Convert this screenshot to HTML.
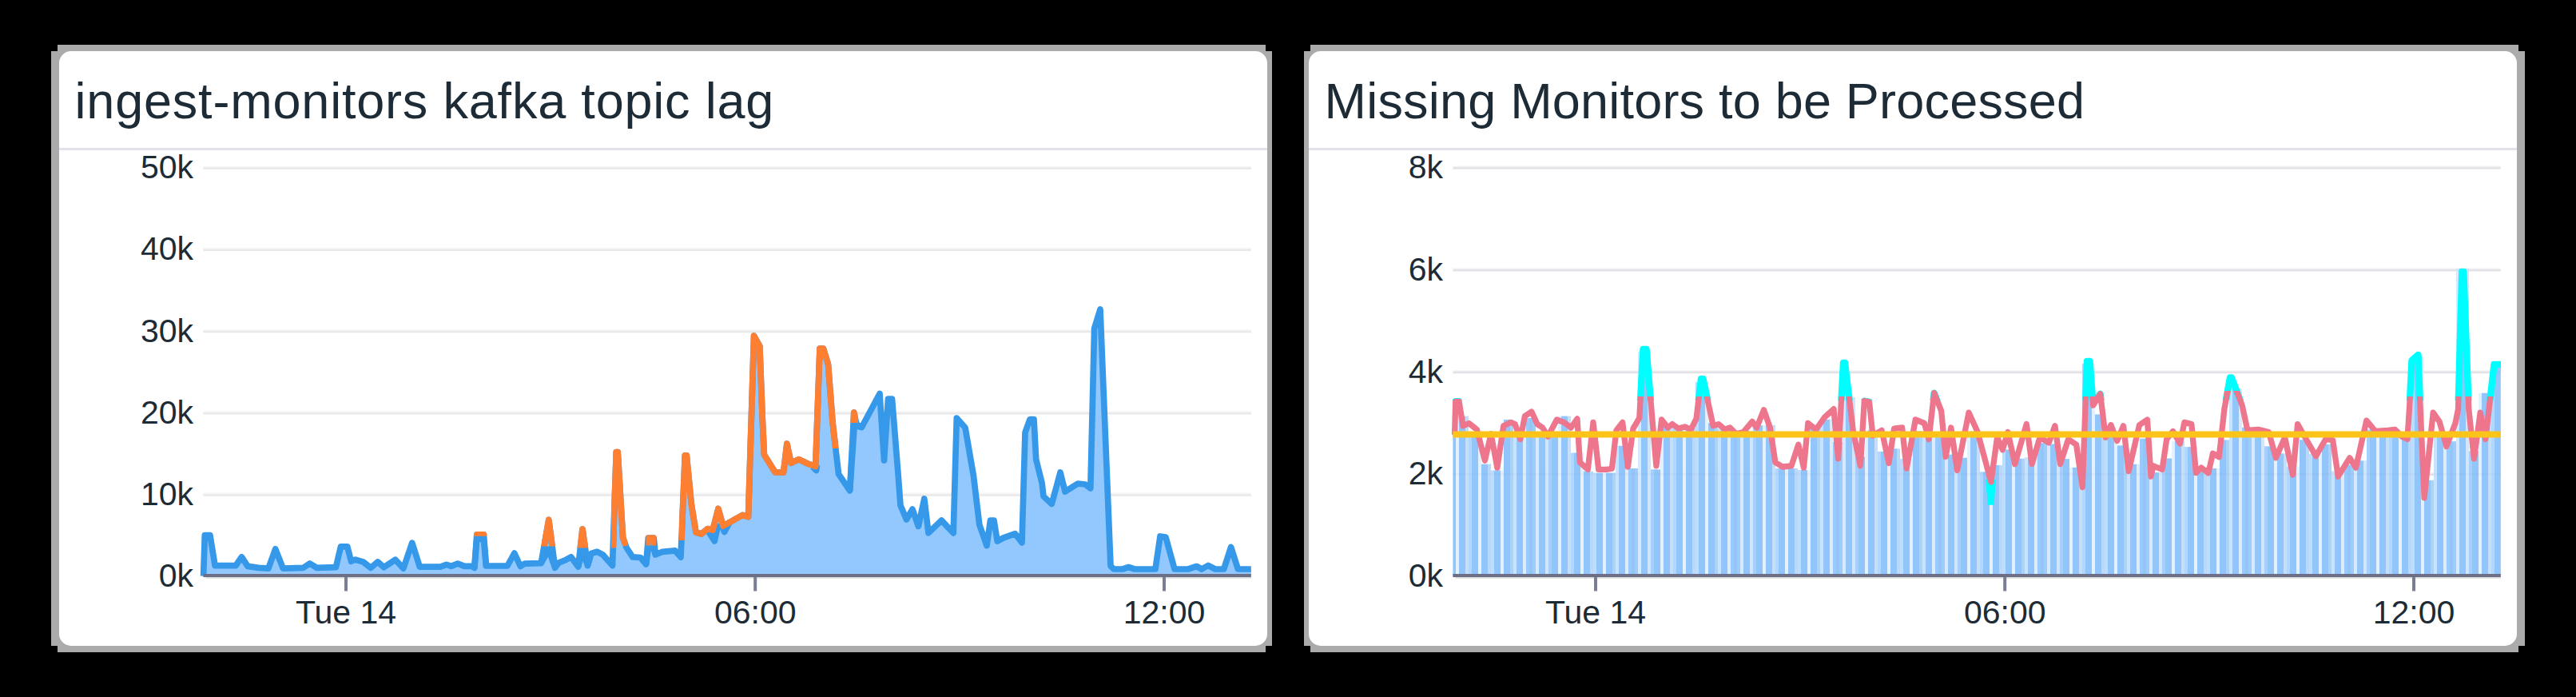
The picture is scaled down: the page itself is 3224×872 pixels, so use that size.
<!DOCTYPE html>
<html><head><meta charset="utf-8"><title>dashboard</title>
<style>html,body{margin:0;padding:0;background:#000;}body{width:3224px;height:872px;overflow:hidden;}svg{display:block;}text{font-family:"Liberation Sans",sans-serif;fill:#1c2b36;}.t{font-size:63px;}.a{font-size:41px;}</style></head><body>
<svg width="3224" height="872" viewBox="0 0 3224 872">
<rect x="0" y="0" width="3224" height="872" fill="#000"/>
<rect x="64" y="64" width="1528" height="744" fill="#ababab"/>
<rect x="72" y="56" width="1512" height="760" fill="#ababab"/>
<rect x="74" y="64" width="1512" height="744" rx="15" ry="15" fill="#fff"/>
<rect x="74" y="185" width="1512" height="3" fill="#e1e2ec"/>
<rect x="1632" y="64" width="1528" height="744" fill="#ababab"/>
<rect x="1640" y="56" width="1512" height="760" fill="#ababab"/>
<rect x="1638" y="64" width="1512" height="744" rx="15" ry="15" fill="#fff"/>
<rect x="1638" y="185" width="1512" height="3" fill="#e1e2ec"/>
<rect x="254.4" y="207.8" width="1311.3999999999999" height="1.8" fill="#f5f5f6"/>
<rect x="254.4" y="209.5" width="1311.3999999999999" height="2.4" fill="#e8e8ea"/>
<text class="a" x="242.0" y="223.2" text-anchor="end">50k</text>
<rect x="254.4" y="310.0" width="1311.3999999999999" height="1.8" fill="#f5f5f6"/>
<rect x="254.4" y="311.7" width="1311.3999999999999" height="2.4" fill="#e8e8ea"/>
<text class="a" x="242.0" y="325.4" text-anchor="end">40k</text>
<rect x="254.4" y="412.2" width="1311.3999999999999" height="1.8" fill="#f5f5f6"/>
<rect x="254.4" y="413.9" width="1311.3999999999999" height="2.4" fill="#e8e8ea"/>
<text class="a" x="242.0" y="427.6" text-anchor="end">30k</text>
<rect x="254.4" y="514.4" width="1311.3999999999999" height="1.8" fill="#f5f5f6"/>
<rect x="254.4" y="516.1" width="1311.3999999999999" height="2.4" fill="#e8e8ea"/>
<text class="a" x="242.0" y="529.8" text-anchor="end">20k</text>
<rect x="254.4" y="616.6" width="1311.3999999999999" height="1.8" fill="#f5f5f6"/>
<rect x="254.4" y="618.3" width="1311.3999999999999" height="2.4" fill="#e8e8ea"/>
<text class="a" x="242.0" y="632.0" text-anchor="end">10k</text>
<rect x="254.4" y="718.4" width="1311.3999999999999" height="1.8" fill="#f5f5f6"/>
<rect x="254.4" y="720.1" width="1311.3999999999999" height="2.4" fill="#e8e8ea"/>
<text class="a" x="242.0" y="733.8" text-anchor="end">0k</text>
<text class="a" x="433.0" y="779.8" text-anchor="middle">Tue 14</text>
<text class="a" x="945.2" y="779.8" text-anchor="middle">06:00</text>
<text class="a" x="1457.0" y="779.8" text-anchor="middle">12:00</text>
<text class="t" x="93.5" y="147.5" letter-spacing="0.8">ingest-monitors kafka topic lag</text>
<polygon points="254.6,720.0 254.6,720.6 256.3,669.5 262.9,669.5 269.1,707.7 295.0,707.7 302.5,696.8 310.0,708.4 323.6,710.4 335.9,711.1 344.7,686.8 354.3,711.1 379.5,710.4 387.7,705.0 396.5,710.4 420.4,709.7 426.5,683.8 434.7,683.8 439.5,702.2 444.9,700.2 454.4,702.9 464.0,710.4 472.8,702.9 480.3,709.7 494.7,700.2 504.9,711.1 515.8,679.1 525.3,709.1 551.2,709.1 558.7,706.3 564.8,708.4 573.0,705.0 581.2,708.4 590.7,708.4 593.8,710.4 596.8,668.8 605.4,668.8 608.4,708.0 635.0,708.0 643.8,692.0 651.3,708.4 656.8,705.2 677.2,704.7 686.8,650.4 694.7,710.4 699.0,704.3 708.6,700.2 714.7,696.8 723.6,709.1 729.0,662.0 735.6,707.7 740.0,692.5 747.2,690.3 754.4,693.9 766.5,707.5 771.3,565.7 773.2,565.7 779.6,672.4 784.0,685.0 791.7,696.8 801.7,697.5 808.6,706.0 811.3,673.0 818.2,673.0 820.4,694.0 829.0,690.3 844.8,688.9 852.0,697.0 857.3,569.8 859.3,569.8 865.2,630.0 871.0,666.0 877.8,668.0 885.7,661.6 892.0,663.0 899.0,636.5 905.0,658.0 929.4,644.4 936.5,646.5 943.6,420.0 950.8,433.0 954.1,520.0 956.4,569.0 960.0,574.6 970.3,591.0 980.6,591.0 984.9,555.0 990.0,579.3 999.8,574.6 1010.4,579.8 1020.7,583.5 1026.0,436.0 1030.5,436.0 1036.5,456.0 1042.1,528.7 1045.9,561.5 1049.6,593.2 1063.6,613.8 1068.8,516.0 1072.0,531.0 1078.5,534.5 1101.0,492.5 1106.5,576.0 1111.5,499.0 1116.5,499.0 1124.2,595.0 1127.0,632.3 1134.5,650.0 1142.0,637.0 1149.4,658.4 1156.8,624.0 1162.0,666.8 1178.3,651.0 1193.2,666.8 1197.3,523.0 1208.0,535.0 1218.4,595.0 1225.8,656.5 1235.0,682.6 1239.5,651.0 1244.0,651.0 1248.2,677.0 1255.7,673.0 1270.6,667.7 1279.0,679.0 1283.0,541.0 1289.0,524.5 1294.0,524.5 1296.7,574.6 1304.1,604.4 1306.0,621.0 1316.3,630.4 1327.0,591.0 1333.0,615.0 1349.0,605.0 1358.3,606.0 1364.8,611.0 1369.6,411.0 1377.0,387.0 1390.0,708.0 1394.0,712.0 1405.0,712.0 1412.5,709.5 1420.0,712.0 1446.0,712.0 1452.0,671.0 1459.0,672.0 1470.0,712.0 1487.0,712.0 1497.6,708.5 1504.0,712.0 1512.0,707.5 1521.0,712.0 1531.7,712.0 1540.6,684.5 1549.4,712.0 1565.8,712.0 1565.8,720.0" fill="#92c8fd"/>
<polyline points="677.2,704.7 686.8,687.2 694.7,710.4" fill="none" stroke="#3598e9" stroke-width="7.7" stroke-linejoin="round"/>
<polyline points="723.6,709.0 729.0,689.3 735.6,707.7" fill="none" stroke="#3598e9" stroke-width="7.7" stroke-linejoin="round"/>
<polyline points="593.8,710.0 596.8,674.5 605.4,674.5 608.4,708.0" fill="none" stroke="#3598e9" stroke-width="7.7" stroke-linejoin="round"/>
<polyline points="808.6,706.0 811.3,686.0 818.2,686.0 820.4,694.0" fill="none" stroke="#3598e9" stroke-width="7.7" stroke-linejoin="round"/>
<polyline points="1063.6,613.8 1069.2,532.6 1078.5,534.5" fill="none" stroke="#3598e9" stroke-width="7.7" stroke-linejoin="round"/>
<polyline points="886.0,664.0 894.3,677.0 899.0,655.0" fill="none" stroke="#3598e9" stroke-width="7.7" stroke-linejoin="round"/>
<polyline points="902.0,655.0 906.7,665.5 914.0,652.0" fill="none" stroke="#3598e9" stroke-width="7.7" stroke-linejoin="round"/>
<polyline points="1017.0,584.0 1021.6,588.5 1022.5,582.0" fill="none" stroke="#3598e9" stroke-width="7.7" stroke-linejoin="round"/>
<polyline points="254.6,720.6 256.3,669.5 262.9,669.5 269.1,707.7 295.0,707.7 302.5,696.8 310.0,708.4 323.6,710.4 335.9,711.1 344.7,686.8 354.3,711.1 379.5,710.4 387.7,705.0 396.5,710.4 420.4,709.7 426.5,683.8 434.7,683.8 439.5,702.2 444.9,700.2 454.4,702.9 464.0,710.4 472.8,702.9 480.3,709.7 494.7,700.2 504.9,711.1 515.8,679.1 525.3,709.1 551.2,709.1 558.7,706.3 564.8,708.4 573.0,705.0 581.2,708.4 590.7,708.4 593.8,710.4 596.8,668.8 605.4,668.8 608.4,708.0 635.0,708.0 643.8,692.0 651.3,708.4 656.8,705.2 677.2,704.7 686.8,650.4 694.7,710.4 699.0,704.3 708.6,700.2 714.7,696.8 723.6,709.1 729.0,662.0 735.6,707.7 740.0,692.5 747.2,690.3 754.4,693.9 766.5,707.5 771.3,565.7 773.2,565.7 779.6,672.4 784.0,685.0 791.7,696.8 801.7,697.5 808.6,706.0 811.3,673.0 818.2,673.0 820.4,694.0 829.0,690.3 844.8,688.9 852.0,697.0 857.3,569.8 859.3,569.8 865.2,630.0 871.0,666.0 877.8,668.0 885.7,661.6 892.0,663.0 899.0,636.5 905.0,658.0 929.4,644.4 936.5,646.5 943.6,420.0 950.8,433.0 954.1,520.0 956.4,569.0 960.0,574.6 970.3,591.0 980.6,591.0 984.9,555.0 990.0,579.3 999.8,574.6 1010.4,579.8 1020.7,583.5 1026.0,436.0 1030.5,436.0 1036.5,456.0 1042.1,528.7 1045.9,561.5 1049.6,593.2 1063.6,613.8 1068.8,516.0 1072.0,531.0 1078.5,534.5 1101.0,492.5 1106.5,576.0 1111.5,499.0 1116.5,499.0 1124.2,595.0 1127.0,632.3 1134.5,650.0 1142.0,637.0 1149.4,658.4 1156.8,624.0 1162.0,666.8 1178.3,651.0 1193.2,666.8 1197.3,523.0 1208.0,535.0 1218.4,595.0 1225.8,656.5 1235.0,682.6 1239.5,651.0 1244.0,651.0 1248.2,677.0 1255.7,673.0 1270.6,667.7 1279.0,679.0 1283.0,541.0 1289.0,524.5 1294.0,524.5 1296.7,574.6 1304.1,604.4 1306.0,621.0 1316.3,630.4 1327.0,591.0 1333.0,615.0 1349.0,605.0 1358.3,606.0 1364.8,611.0 1369.6,411.0 1377.0,387.0 1390.0,708.0 1394.0,712.0 1405.0,712.0 1412.5,709.5 1420.0,712.0 1446.0,712.0 1452.0,671.0 1459.0,672.0 1470.0,712.0 1487.0,712.0 1497.6,708.5 1504.0,712.0 1512.0,707.5 1521.0,712.0 1531.7,712.0 1540.6,684.5 1549.4,712.0 1565.8,712.0" fill="none" stroke="#3598e9" stroke-width="7.7" stroke-linejoin="round"/>
<clipPath id="oc">
<polygon points="592,0 609.5,0 609.5,670.8 592,670.8"/>
<polygon points="678,0 696,0 696,683.5 678,683.5"/>
<polygon points="722,0 737,0 737,685.5 722,685.5"/>
<polygon points="765,0 786,0 786,682.4 765,686"/>
<polygon points="808.5,0 821,0 821,682.4 808.5,682.4"/>
<polygon points="850,0 860,0 860,676 850,676"/>
<polygon points="860,0 1035,0 1035,722 860,722"/>
<polygon points="1035,0 1049,0 1049,561 1035,561"/>
<polygon points="1064,0 1074,0 1074,528.9 1064,528.9"/>
</clipPath>
<polyline clip-path="url(#oc)" points="254.6,720.6 256.3,669.5 262.9,669.5 269.1,707.7 295.0,707.7 302.5,696.8 310.0,708.4 323.6,710.4 335.9,711.1 344.7,686.8 354.3,711.1 379.5,710.4 387.7,705.0 396.5,710.4 420.4,709.7 426.5,683.8 434.7,683.8 439.5,702.2 444.9,700.2 454.4,702.9 464.0,710.4 472.8,702.9 480.3,709.7 494.7,700.2 504.9,711.1 515.8,679.1 525.3,709.1 551.2,709.1 558.7,706.3 564.8,708.4 573.0,705.0 581.2,708.4 590.7,708.4 593.8,710.4 596.8,668.8 605.4,668.8 608.4,708.0 635.0,708.0 643.8,692.0 651.3,708.4 656.8,705.2 677.2,704.7 686.8,650.4 694.7,710.4 699.0,704.3 708.6,700.2 714.7,696.8 723.6,709.1 729.0,662.0 735.6,707.7 740.0,692.5 747.2,690.3 754.4,693.9 766.5,707.5 771.3,565.7 773.2,565.7 779.6,672.4 784.0,685.0 791.7,696.8 801.7,697.5 808.6,706.0 811.3,673.0 818.2,673.0 820.4,694.0 829.0,690.3 844.8,688.9 852.0,697.0 857.3,569.8 859.3,569.8 865.2,630.0 871.0,666.0 877.8,668.0 885.7,661.6 892.0,663.0 899.0,636.5 905.0,658.0 929.4,644.4 936.5,646.5 943.6,420.0 950.8,433.0 954.1,520.0 956.4,569.0 960.0,574.6 970.3,591.0 980.6,591.0 984.9,555.0 990.0,579.3 999.8,574.6 1010.4,579.8 1020.7,583.5 1026.0,436.0 1030.5,436.0 1036.5,456.0 1042.1,528.7 1045.9,561.5 1049.6,593.2 1063.6,613.8 1068.8,516.0 1072.0,531.0 1078.5,534.5 1101.0,492.5 1106.5,576.0 1111.5,499.0 1116.5,499.0 1124.2,595.0 1127.0,632.3 1134.5,650.0 1142.0,637.0 1149.4,658.4 1156.8,624.0 1162.0,666.8 1178.3,651.0 1193.2,666.8 1197.3,523.0 1208.0,535.0 1218.4,595.0 1225.8,656.5 1235.0,682.6 1239.5,651.0 1244.0,651.0 1248.2,677.0 1255.7,673.0 1270.6,667.7 1279.0,679.0 1283.0,541.0 1289.0,524.5 1294.0,524.5 1296.7,574.6 1304.1,604.4 1306.0,621.0 1316.3,630.4 1327.0,591.0 1333.0,615.0 1349.0,605.0 1358.3,606.0 1364.8,611.0 1369.6,411.0 1377.0,387.0 1390.0,708.0 1394.0,712.0 1405.0,712.0 1412.5,709.5 1420.0,712.0 1446.0,712.0 1452.0,671.0 1459.0,672.0 1470.0,712.0 1487.0,712.0 1497.6,708.5 1504.0,712.0 1512.0,707.5 1521.0,712.0 1531.7,712.0 1540.6,684.5 1549.4,712.0 1565.8,712.0" fill="none" stroke="#ff7f32" stroke-width="7.7" stroke-linejoin="round"/>
<rect x="257.4" y="721.5" width="1308.3999999999999" height="2.2" fill="#dcdcdc"/>
<rect x="254.4" y="718" width="1311.3999999999999" height="4" fill="#6c6f85"/>
<rect x="431.0" y="722" width="4" height="17.5" fill="#7b7e93"/>
<rect x="943.2" y="722" width="4" height="17.5" fill="#7b7e93"/>
<rect x="1455.0" y="722" width="4" height="17.5" fill="#7b7e93"/>
<rect x="1818.4" y="207.6" width="1311.4" height="1.8" fill="#f5f5f6"/>
<rect x="1818.4" y="209.3" width="1311.4" height="2.4" fill="#e8e8ea"/>
<text class="a" x="1806.0" y="223.0" text-anchor="end">8k</text>
<rect x="1818.4" y="335.4" width="1311.4" height="1.8" fill="#f5f5f6"/>
<rect x="1818.4" y="337.1" width="1311.4" height="2.4" fill="#e8e8ea"/>
<text class="a" x="1806.0" y="350.8" text-anchor="end">6k</text>
<rect x="1818.4" y="463.2" width="1311.4" height="1.8" fill="#f5f5f6"/>
<rect x="1818.4" y="464.9" width="1311.4" height="2.4" fill="#e8e8ea"/>
<text class="a" x="1806.0" y="478.6" text-anchor="end">4k</text>
<rect x="1818.4" y="591.0" width="1311.4" height="1.8" fill="#f5f5f6"/>
<rect x="1818.4" y="592.7" width="1311.4" height="2.4" fill="#e8e8ea"/>
<text class="a" x="1806.0" y="606.4" text-anchor="end">2k</text>
<rect x="1818.4" y="718.4" width="1311.4" height="1.8" fill="#f5f5f6"/>
<rect x="1818.4" y="720.1" width="1311.4" height="2.4" fill="#e8e8ea"/>
<text class="a" x="1806.0" y="733.8" text-anchor="end">0k</text>
<text class="a" x="1997.0" y="779.8" text-anchor="middle">Tue 14</text>
<text class="a" x="2509.2" y="779.8" text-anchor="middle">06:00</text>
<text class="a" x="3021.0" y="779.8" text-anchor="middle">12:00</text>
<text class="t" x="1657.5" y="147.5" letter-spacing="0.2">Missing Monitors to be Processed</text>
<g>
<rect x="1818.4" y="539.9" width="3.6" height="180.1" fill="rgb(146,198,251)"/>
<rect x="1822.0" y="520.6" width="4.0" height="199.4" fill="rgb(227,240,253)"/>
<rect x="1826.0" y="520.6" width="4.0" height="199.4" fill="rgb(146,198,251)"/>
<rect x="1830.0" y="520.6" width="4.0" height="199.4" fill="rgb(146,198,251)"/>
<rect x="1834.0" y="520.6" width="4.0" height="199.4" fill="rgb(195,223,252)"/>
<rect x="1838.0" y="541.9" width="4.0" height="178.1" fill="rgb(178,215,252)"/>
<rect x="1842.0" y="541.9" width="4.0" height="178.1" fill="rgb(146,198,251)"/>
<rect x="1846.0" y="541.9" width="4.0" height="178.1" fill="rgb(146,198,251)"/>
<rect x="1850.0" y="541.9" width="4.0" height="178.1" fill="rgb(227,240,254)"/>
<rect x="1854.0" y="580.6" width="4.0" height="139.4" fill="rgb(146,198,251)"/>
<rect x="1858.0" y="580.6" width="4.0" height="139.4" fill="rgb(146,198,251)"/>
<rect x="1862.0" y="580.6" width="4.0" height="139.4" fill="rgb(182,217,252)"/>
<rect x="1866.0" y="588.4" width="4.0" height="131.6" fill="rgb(190,221,252)"/>
<rect x="1870.0" y="588.4" width="4.0" height="131.6" fill="rgb(146,198,251)"/>
<rect x="1874.0" y="588.4" width="4.0" height="131.6" fill="rgb(146,198,251)"/>
<rect x="1878.0" y="588.4" width="4.0" height="131.6" fill="rgb(227,240,254)"/>
<rect x="1882.0" y="525.0" width="4.0" height="195.0" fill="rgb(146,198,251)"/>
<rect x="1886.0" y="525.0" width="4.0" height="195.0" fill="rgb(146,198,251)"/>
<rect x="1890.0" y="525.0" width="4.0" height="195.0" fill="rgb(170,210,251)"/>
<rect x="1894.0" y="543.1" width="4.0" height="176.9" fill="rgb(202,227,253)"/>
<rect x="1898.0" y="543.1" width="4.0" height="176.9" fill="rgb(146,198,251)"/>
<rect x="1902.0" y="543.1" width="4.0" height="176.9" fill="rgb(146,198,251)"/>
<rect x="1906.0" y="543.1" width="4.0" height="176.9" fill="rgb(219,236,253)"/>
<rect x="1910.0" y="523.1" width="4.0" height="196.9" fill="rgb(154,202,251)"/>
<rect x="1914.0" y="523.1" width="4.0" height="196.9" fill="rgb(146,198,251)"/>
<rect x="1918.0" y="523.1" width="4.0" height="196.9" fill="rgb(158,204,251)"/>
<rect x="1922.0" y="541.0" width="4.0" height="179.0" fill="rgb(215,234,253)"/>
<rect x="1926.0" y="541.0" width="4.0" height="179.0" fill="rgb(146,198,251)"/>
<rect x="1930.0" y="541.0" width="4.0" height="179.0" fill="rgb(146,198,251)"/>
<rect x="1934.0" y="541.0" width="4.0" height="179.0" fill="rgb(207,229,253)"/>
<rect x="1938.0" y="539.8" width="4.0" height="180.2" fill="rgb(166,208,251)"/>
<rect x="1942.0" y="539.8" width="4.0" height="180.2" fill="rgb(146,198,251)"/>
<rect x="1946.0" y="539.8" width="4.0" height="180.2" fill="rgb(146,198,251)"/>
<rect x="1950.0" y="520.6" width="4.0" height="199.4" fill="rgb(227,240,253)"/>
<rect x="1954.0" y="520.6" width="4.0" height="199.4" fill="rgb(146,198,251)"/>
<rect x="1958.0" y="520.6" width="4.0" height="199.4" fill="rgb(146,198,251)"/>
<rect x="1962.0" y="520.6" width="4.0" height="199.4" fill="rgb(195,223,252)"/>
<rect x="1966.0" y="566.5" width="4.0" height="153.5" fill="rgb(178,215,252)"/>
<rect x="1970.0" y="566.5" width="4.0" height="153.5" fill="rgb(146,198,251)"/>
<rect x="1974.0" y="566.5" width="4.0" height="153.5" fill="rgb(146,198,251)"/>
<rect x="1978.0" y="566.5" width="4.0" height="153.5" fill="rgb(227,240,254)"/>
<rect x="1982.0" y="589.5" width="4.0" height="130.5" fill="rgb(146,198,251)"/>
<rect x="1986.0" y="589.5" width="4.0" height="130.5" fill="rgb(146,198,251)"/>
<rect x="1990.0" y="589.5" width="4.0" height="130.5" fill="rgb(182,217,252)"/>
<rect x="1994.0" y="591.7" width="4.0" height="128.3" fill="rgb(190,221,252)"/>
<rect x="1998.0" y="591.7" width="4.0" height="128.3" fill="rgb(146,198,251)"/>
<rect x="2002.0" y="591.7" width="4.0" height="128.3" fill="rgb(146,198,251)"/>
<rect x="2006.0" y="591.7" width="4.0" height="128.3" fill="rgb(227,240,254)"/>
<rect x="2010.0" y="591.7" width="4.0" height="128.3" fill="rgb(146,198,251)"/>
<rect x="2014.0" y="591.7" width="4.0" height="128.3" fill="rgb(146,198,251)"/>
<rect x="2018.0" y="591.7" width="4.0" height="128.3" fill="rgb(170,210,251)"/>
<rect x="2022.0" y="557.7" width="4.0" height="162.3" fill="rgb(202,227,253)"/>
<rect x="2026.0" y="557.7" width="4.0" height="162.3" fill="rgb(146,198,251)"/>
<rect x="2030.0" y="557.7" width="4.0" height="162.3" fill="rgb(146,198,251)"/>
<rect x="2034.0" y="557.7" width="4.0" height="162.3" fill="rgb(219,236,253)"/>
<rect x="2038.0" y="586.0" width="4.0" height="134.0" fill="rgb(154,202,251)"/>
<rect x="2042.0" y="586.0" width="4.0" height="134.0" fill="rgb(146,198,251)"/>
<rect x="2046.0" y="586.0" width="4.0" height="134.0" fill="rgb(158,204,251)"/>
<rect x="2050.0" y="440.0" width="4.0" height="280.0" fill="rgb(215,234,253)"/>
<rect x="2054.0" y="440.0" width="4.0" height="280.0" fill="rgb(146,198,251)"/>
<rect x="2058.0" y="440.0" width="4.0" height="280.0" fill="rgb(146,198,251)"/>
<rect x="2062.0" y="440.0" width="4.0" height="280.0" fill="rgb(207,229,253)"/>
<rect x="2066.0" y="587.3" width="4.0" height="132.7" fill="rgb(166,208,251)"/>
<rect x="2070.0" y="587.3" width="4.0" height="132.7" fill="rgb(146,198,251)"/>
<rect x="2074.0" y="587.3" width="4.0" height="132.7" fill="rgb(146,198,251)"/>
<rect x="2078.0" y="533.2" width="4.0" height="186.8" fill="rgb(227,240,253)"/>
<rect x="2082.0" y="533.2" width="4.0" height="186.8" fill="rgb(146,198,251)"/>
<rect x="2086.0" y="533.2" width="4.0" height="186.8" fill="rgb(146,198,251)"/>
<rect x="2090.0" y="533.2" width="4.0" height="186.8" fill="rgb(195,223,252)"/>
<rect x="2094.0" y="535.6" width="4.0" height="184.4" fill="rgb(178,215,252)"/>
<rect x="2098.0" y="535.6" width="4.0" height="184.4" fill="rgb(146,198,251)"/>
<rect x="2102.0" y="535.6" width="4.0" height="184.4" fill="rgb(146,198,251)"/>
<rect x="2106.0" y="535.6" width="4.0" height="184.4" fill="rgb(227,240,254)"/>
<rect x="2110.0" y="535.8" width="4.0" height="184.2" fill="rgb(146,198,251)"/>
<rect x="2114.0" y="535.8" width="4.0" height="184.2" fill="rgb(146,198,251)"/>
<rect x="2118.0" y="535.8" width="4.0" height="184.2" fill="rgb(182,217,252)"/>
<rect x="2122.0" y="478.0" width="4.0" height="242.0" fill="rgb(190,221,252)"/>
<rect x="2126.0" y="478.0" width="4.0" height="242.0" fill="rgb(146,198,251)"/>
<rect x="2130.0" y="478.0" width="4.0" height="242.0" fill="rgb(146,198,251)"/>
<rect x="2134.0" y="478.0" width="4.0" height="242.0" fill="rgb(227,240,254)"/>
<rect x="2138.0" y="529.2" width="4.0" height="190.8" fill="rgb(146,198,251)"/>
<rect x="2142.0" y="529.2" width="4.0" height="190.8" fill="rgb(146,198,251)"/>
<rect x="2146.0" y="529.2" width="4.0" height="190.8" fill="rgb(170,210,251)"/>
<rect x="2150.0" y="536.3" width="4.0" height="183.7" fill="rgb(202,227,253)"/>
<rect x="2154.0" y="536.3" width="4.0" height="183.7" fill="rgb(146,198,251)"/>
<rect x="2158.0" y="536.3" width="4.0" height="183.7" fill="rgb(146,198,251)"/>
<rect x="2162.0" y="536.3" width="4.0" height="183.7" fill="rgb(219,236,253)"/>
<rect x="2166.0" y="541.8" width="4.0" height="178.2" fill="rgb(154,202,251)"/>
<rect x="2170.0" y="541.8" width="4.0" height="178.2" fill="rgb(146,198,251)"/>
<rect x="2174.0" y="541.8" width="4.0" height="178.2" fill="rgb(158,204,251)"/>
<rect x="2178.0" y="539.0" width="4.0" height="181.0" fill="rgb(215,234,253)"/>
<rect x="2182.0" y="539.0" width="4.0" height="181.0" fill="rgb(146,198,251)"/>
<rect x="2186.0" y="539.0" width="4.0" height="181.0" fill="rgb(146,198,251)"/>
<rect x="2190.0" y="539.0" width="4.0" height="181.0" fill="rgb(207,229,253)"/>
<rect x="2194.0" y="532.2" width="4.0" height="187.8" fill="rgb(166,208,251)"/>
<rect x="2198.0" y="532.2" width="4.0" height="187.8" fill="rgb(146,198,251)"/>
<rect x="2202.0" y="532.2" width="4.0" height="187.8" fill="rgb(146,198,251)"/>
<rect x="2206.0" y="531.7" width="4.0" height="188.3" fill="rgb(227,240,253)"/>
<rect x="2210.0" y="531.7" width="4.0" height="188.3" fill="rgb(146,198,251)"/>
<rect x="2214.0" y="531.7" width="4.0" height="188.3" fill="rgb(146,198,251)"/>
<rect x="2218.0" y="531.7" width="4.0" height="188.3" fill="rgb(195,223,252)"/>
<rect x="2222.0" y="586.0" width="4.0" height="134.0" fill="rgb(178,215,252)"/>
<rect x="2226.0" y="586.0" width="4.0" height="134.0" fill="rgb(146,198,251)"/>
<rect x="2230.0" y="586.0" width="4.0" height="134.0" fill="rgb(146,198,251)"/>
<rect x="2234.0" y="586.0" width="4.0" height="134.0" fill="rgb(227,240,254)"/>
<rect x="2238.0" y="586.0" width="4.0" height="134.0" fill="rgb(146,198,251)"/>
<rect x="2242.0" y="586.0" width="4.0" height="134.0" fill="rgb(146,198,251)"/>
<rect x="2246.0" y="586.0" width="4.0" height="134.0" fill="rgb(182,217,252)"/>
<rect x="2250.0" y="588.0" width="4.0" height="132.0" fill="rgb(190,221,252)"/>
<rect x="2254.0" y="588.0" width="4.0" height="132.0" fill="rgb(146,198,251)"/>
<rect x="2258.0" y="588.0" width="4.0" height="132.0" fill="rgb(146,198,251)"/>
<rect x="2262.0" y="588.0" width="4.0" height="132.0" fill="rgb(227,240,254)"/>
<rect x="2266.0" y="535.6" width="4.0" height="184.4" fill="rgb(146,198,251)"/>
<rect x="2270.0" y="535.6" width="4.0" height="184.4" fill="rgb(146,198,251)"/>
<rect x="2274.0" y="535.6" width="4.0" height="184.4" fill="rgb(170,210,251)"/>
<rect x="2278.0" y="524.7" width="4.0" height="195.3" fill="rgb(202,227,253)"/>
<rect x="2282.0" y="524.7" width="4.0" height="195.3" fill="rgb(146,198,251)"/>
<rect x="2286.0" y="524.7" width="4.0" height="195.3" fill="rgb(146,198,251)"/>
<rect x="2290.0" y="524.7" width="4.0" height="195.3" fill="rgb(219,236,253)"/>
<rect x="2294.0" y="553.1" width="4.0" height="166.9" fill="rgb(154,202,251)"/>
<rect x="2298.0" y="553.1" width="4.0" height="166.9" fill="rgb(146,198,251)"/>
<rect x="2302.0" y="553.1" width="4.0" height="166.9" fill="rgb(158,204,251)"/>
<rect x="2306.0" y="497.0" width="4.0" height="223.0" fill="rgb(215,234,253)"/>
<rect x="2310.0" y="497.0" width="4.0" height="223.0" fill="rgb(146,198,251)"/>
<rect x="2314.0" y="497.0" width="4.0" height="223.0" fill="rgb(146,198,251)"/>
<rect x="2318.0" y="497.0" width="4.0" height="223.0" fill="rgb(207,229,253)"/>
<rect x="2322.0" y="571.4" width="4.0" height="148.6" fill="rgb(166,208,251)"/>
<rect x="2326.0" y="571.4" width="4.0" height="148.6" fill="rgb(146,198,251)"/>
<rect x="2330.0" y="571.4" width="4.0" height="148.6" fill="rgb(146,198,251)"/>
<rect x="2334.0" y="538.2" width="4.0" height="181.8" fill="rgb(227,240,253)"/>
<rect x="2338.0" y="538.2" width="4.0" height="181.8" fill="rgb(146,198,251)"/>
<rect x="2342.0" y="538.2" width="4.0" height="181.8" fill="rgb(146,198,251)"/>
<rect x="2346.0" y="538.2" width="4.0" height="181.8" fill="rgb(195,223,252)"/>
<rect x="2350.0" y="564.9" width="4.0" height="155.1" fill="rgb(178,215,252)"/>
<rect x="2354.0" y="564.9" width="4.0" height="155.1" fill="rgb(146,198,251)"/>
<rect x="2358.0" y="564.9" width="4.0" height="155.1" fill="rgb(146,198,251)"/>
<rect x="2362.0" y="564.9" width="4.0" height="155.1" fill="rgb(227,240,254)"/>
<rect x="2366.0" y="561.3" width="4.0" height="158.7" fill="rgb(146,198,251)"/>
<rect x="2370.0" y="561.3" width="4.0" height="158.7" fill="rgb(146,198,251)"/>
<rect x="2374.0" y="561.3" width="4.0" height="158.7" fill="rgb(182,217,252)"/>
<rect x="2378.0" y="574.1" width="4.0" height="145.9" fill="rgb(190,221,252)"/>
<rect x="2382.0" y="574.1" width="4.0" height="145.9" fill="rgb(146,198,251)"/>
<rect x="2386.0" y="574.1" width="4.0" height="145.9" fill="rgb(146,198,251)"/>
<rect x="2390.0" y="574.1" width="4.0" height="145.9" fill="rgb(227,240,254)"/>
<rect x="2394.0" y="539.2" width="4.0" height="180.8" fill="rgb(146,198,251)"/>
<rect x="2398.0" y="539.2" width="4.0" height="180.8" fill="rgb(146,198,251)"/>
<rect x="2402.0" y="539.2" width="4.0" height="180.8" fill="rgb(170,210,251)"/>
<rect x="2406.0" y="542.1" width="4.0" height="177.9" fill="rgb(202,227,253)"/>
<rect x="2410.0" y="542.1" width="4.0" height="177.9" fill="rgb(146,198,251)"/>
<rect x="2414.0" y="542.1" width="4.0" height="177.9" fill="rgb(146,198,251)"/>
<rect x="2418.0" y="542.1" width="4.0" height="177.9" fill="rgb(219,236,253)"/>
<rect x="2422.0" y="541.8" width="4.0" height="178.2" fill="rgb(154,202,251)"/>
<rect x="2426.0" y="541.8" width="4.0" height="178.2" fill="rgb(146,198,251)"/>
<rect x="2430.0" y="541.8" width="4.0" height="178.2" fill="rgb(158,204,251)"/>
<rect x="2434.0" y="568.7" width="4.0" height="151.3" fill="rgb(215,234,253)"/>
<rect x="2438.0" y="568.7" width="4.0" height="151.3" fill="rgb(146,198,251)"/>
<rect x="2442.0" y="568.7" width="4.0" height="151.3" fill="rgb(146,198,251)"/>
<rect x="2446.0" y="568.7" width="4.0" height="151.3" fill="rgb(207,229,253)"/>
<rect x="2450.0" y="572.7" width="4.0" height="147.3" fill="rgb(166,208,251)"/>
<rect x="2454.0" y="572.7" width="4.0" height="147.3" fill="rgb(146,198,251)"/>
<rect x="2458.0" y="572.7" width="4.0" height="147.3" fill="rgb(146,198,251)"/>
<rect x="2462.0" y="539.7" width="4.0" height="180.3" fill="rgb(227,240,253)"/>
<rect x="2466.0" y="539.7" width="4.0" height="180.3" fill="rgb(146,198,251)"/>
<rect x="2470.0" y="539.7" width="4.0" height="180.3" fill="rgb(146,198,251)"/>
<rect x="2474.0" y="539.7" width="4.0" height="180.3" fill="rgb(195,223,252)"/>
<rect x="2478.0" y="590.3" width="4.0" height="129.7" fill="rgb(178,215,252)"/>
<rect x="2482.0" y="590.3" width="4.0" height="129.7" fill="rgb(146,198,251)"/>
<rect x="2486.0" y="590.3" width="4.0" height="129.7" fill="rgb(146,198,251)"/>
<rect x="2490.0" y="590.3" width="4.0" height="129.7" fill="rgb(227,240,254)"/>
<rect x="2494.0" y="581.9" width="4.0" height="138.1" fill="rgb(146,198,251)"/>
<rect x="2498.0" y="581.9" width="4.0" height="138.1" fill="rgb(146,198,251)"/>
<rect x="2502.0" y="581.9" width="4.0" height="138.1" fill="rgb(182,217,252)"/>
<rect x="2506.0" y="562.4" width="4.0" height="157.6" fill="rgb(190,221,252)"/>
<rect x="2510.0" y="562.4" width="4.0" height="157.6" fill="rgb(146,198,251)"/>
<rect x="2514.0" y="562.4" width="4.0" height="157.6" fill="rgb(146,198,251)"/>
<rect x="2518.0" y="562.4" width="4.0" height="157.6" fill="rgb(227,240,254)"/>
<rect x="2522.0" y="573.7" width="4.0" height="146.3" fill="rgb(146,198,251)"/>
<rect x="2526.0" y="573.7" width="4.0" height="146.3" fill="rgb(146,198,251)"/>
<rect x="2530.0" y="573.7" width="4.0" height="146.3" fill="rgb(170,210,251)"/>
<rect x="2534.0" y="572.1" width="4.0" height="147.9" fill="rgb(202,227,253)"/>
<rect x="2538.0" y="572.1" width="4.0" height="147.9" fill="rgb(146,198,251)"/>
<rect x="2542.0" y="572.1" width="4.0" height="147.9" fill="rgb(146,198,251)"/>
<rect x="2546.0" y="572.1" width="4.0" height="147.9" fill="rgb(219,236,253)"/>
<rect x="2550.0" y="554.3" width="4.0" height="165.7" fill="rgb(154,202,251)"/>
<rect x="2554.0" y="554.3" width="4.0" height="165.7" fill="rgb(146,198,251)"/>
<rect x="2558.0" y="554.3" width="4.0" height="165.7" fill="rgb(158,204,251)"/>
<rect x="2562.0" y="555.5" width="4.0" height="164.5" fill="rgb(215,234,253)"/>
<rect x="2566.0" y="555.5" width="4.0" height="164.5" fill="rgb(146,198,251)"/>
<rect x="2570.0" y="555.5" width="4.0" height="164.5" fill="rgb(146,198,251)"/>
<rect x="2574.0" y="555.5" width="4.0" height="164.5" fill="rgb(207,229,253)"/>
<rect x="2578.0" y="574.1" width="4.0" height="145.9" fill="rgb(166,208,251)"/>
<rect x="2582.0" y="574.1" width="4.0" height="145.9" fill="rgb(146,198,251)"/>
<rect x="2586.0" y="574.1" width="4.0" height="145.9" fill="rgb(146,198,251)"/>
<rect x="2590.0" y="584.8" width="4.0" height="135.2" fill="rgb(227,240,253)"/>
<rect x="2594.0" y="584.8" width="4.0" height="135.2" fill="rgb(146,198,251)"/>
<rect x="2598.0" y="584.8" width="4.0" height="135.2" fill="rgb(146,198,251)"/>
<rect x="2602.0" y="584.8" width="4.0" height="135.2" fill="rgb(195,223,252)"/>
<rect x="2606.0" y="455.0" width="4.0" height="265.0" fill="rgb(178,215,252)"/>
<rect x="2610.0" y="455.0" width="4.0" height="265.0" fill="rgb(146,198,251)"/>
<rect x="2614.0" y="455.0" width="4.0" height="265.0" fill="rgb(146,198,251)"/>
<rect x="2618.0" y="455.0" width="4.0" height="265.0" fill="rgb(227,240,254)"/>
<rect x="2622.0" y="518.4" width="4.0" height="201.6" fill="rgb(146,198,251)"/>
<rect x="2626.0" y="518.4" width="4.0" height="201.6" fill="rgb(146,198,251)"/>
<rect x="2630.0" y="518.4" width="4.0" height="201.6" fill="rgb(182,217,252)"/>
<rect x="2634.0" y="544.0" width="4.0" height="176.0" fill="rgb(190,221,252)"/>
<rect x="2638.0" y="544.0" width="4.0" height="176.0" fill="rgb(146,198,251)"/>
<rect x="2642.0" y="544.0" width="4.0" height="176.0" fill="rgb(146,198,251)"/>
<rect x="2646.0" y="544.0" width="4.0" height="176.0" fill="rgb(227,240,254)"/>
<rect x="2650.0" y="557.3" width="4.0" height="162.7" fill="rgb(146,198,251)"/>
<rect x="2654.0" y="557.3" width="4.0" height="162.7" fill="rgb(146,198,251)"/>
<rect x="2658.0" y="557.3" width="4.0" height="162.7" fill="rgb(170,211,251)"/>
<rect x="2662.0" y="580.7" width="4.0" height="139.3" fill="rgb(202,227,253)"/>
<rect x="2666.0" y="580.7" width="4.0" height="139.3" fill="rgb(146,198,251)"/>
<rect x="2670.0" y="580.7" width="4.0" height="139.3" fill="rgb(146,198,251)"/>
<rect x="2674.0" y="580.7" width="4.0" height="139.3" fill="rgb(219,236,253)"/>
<rect x="2678.0" y="548.7" width="4.0" height="171.3" fill="rgb(154,202,251)"/>
<rect x="2682.0" y="548.7" width="4.0" height="171.3" fill="rgb(146,198,251)"/>
<rect x="2686.0" y="548.7" width="4.0" height="171.3" fill="rgb(158,204,251)"/>
<rect x="2690.0" y="591.1" width="4.0" height="128.9" fill="rgb(214,234,253)"/>
<rect x="2694.0" y="591.1" width="4.0" height="128.9" fill="rgb(146,198,251)"/>
<rect x="2698.0" y="591.1" width="4.0" height="128.9" fill="rgb(146,198,251)"/>
<rect x="2702.0" y="591.1" width="4.0" height="128.9" fill="rgb(207,230,253)"/>
<rect x="2706.0" y="573.5" width="4.0" height="146.5" fill="rgb(166,208,251)"/>
<rect x="2710.0" y="573.5" width="4.0" height="146.5" fill="rgb(146,198,251)"/>
<rect x="2714.0" y="573.5" width="4.0" height="146.5" fill="rgb(146,198,251)"/>
<rect x="2718.0" y="551.7" width="4.0" height="168.3" fill="rgb(227,240,253)"/>
<rect x="2722.0" y="551.7" width="4.0" height="168.3" fill="rgb(146,198,251)"/>
<rect x="2726.0" y="551.7" width="4.0" height="168.3" fill="rgb(146,198,251)"/>
<rect x="2730.0" y="551.7" width="4.0" height="168.3" fill="rgb(195,223,252)"/>
<rect x="2734.0" y="559.1" width="4.0" height="160.9" fill="rgb(178,215,252)"/>
<rect x="2738.0" y="559.1" width="4.0" height="160.9" fill="rgb(146,198,251)"/>
<rect x="2742.0" y="559.1" width="4.0" height="160.9" fill="rgb(146,198,251)"/>
<rect x="2746.0" y="559.1" width="4.0" height="160.9" fill="rgb(227,240,254)"/>
<rect x="2750.0" y="589.7" width="4.0" height="130.3" fill="rgb(146,198,251)"/>
<rect x="2754.0" y="589.7" width="4.0" height="130.3" fill="rgb(146,198,251)"/>
<rect x="2758.0" y="589.7" width="4.0" height="130.3" fill="rgb(182,217,252)"/>
<rect x="2762.0" y="585.9" width="4.0" height="134.1" fill="rgb(190,221,252)"/>
<rect x="2766.0" y="585.9" width="4.0" height="134.1" fill="rgb(146,198,251)"/>
<rect x="2770.0" y="585.9" width="4.0" height="134.1" fill="rgb(146,198,251)"/>
<rect x="2774.0" y="585.9" width="4.0" height="134.1" fill="rgb(227,240,254)"/>
<rect x="2778.0" y="550.4" width="4.0" height="169.6" fill="rgb(146,198,251)"/>
<rect x="2782.0" y="550.4" width="4.0" height="169.6" fill="rgb(146,198,251)"/>
<rect x="2786.0" y="550.4" width="4.0" height="169.6" fill="rgb(170,211,251)"/>
<rect x="2790.0" y="486.0" width="4.0" height="234.0" fill="rgb(202,227,253)"/>
<rect x="2794.0" y="486.0" width="4.0" height="234.0" fill="rgb(146,198,251)"/>
<rect x="2798.0" y="486.0" width="4.0" height="234.0" fill="rgb(146,198,251)"/>
<rect x="2802.0" y="486.0" width="4.0" height="234.0" fill="rgb(219,236,253)"/>
<rect x="2806.0" y="534.8" width="4.0" height="185.2" fill="rgb(154,202,251)"/>
<rect x="2810.0" y="534.8" width="4.0" height="185.2" fill="rgb(146,198,251)"/>
<rect x="2814.0" y="534.8" width="4.0" height="185.2" fill="rgb(158,204,251)"/>
<rect x="2818.0" y="538.3" width="4.0" height="181.7" fill="rgb(214,234,253)"/>
<rect x="2822.0" y="538.3" width="4.0" height="181.7" fill="rgb(146,198,251)"/>
<rect x="2826.0" y="538.3" width="4.0" height="181.7" fill="rgb(146,198,251)"/>
<rect x="2830.0" y="538.3" width="4.0" height="181.7" fill="rgb(207,230,253)"/>
<rect x="2834.0" y="558.3" width="4.0" height="161.7" fill="rgb(166,208,251)"/>
<rect x="2838.0" y="558.3" width="4.0" height="161.7" fill="rgb(146,198,251)"/>
<rect x="2842.0" y="558.3" width="4.0" height="161.7" fill="rgb(146,198,251)"/>
<rect x="2846.0" y="567.3" width="4.0" height="152.7" fill="rgb(227,240,253)"/>
<rect x="2850.0" y="567.3" width="4.0" height="152.7" fill="rgb(146,198,251)"/>
<rect x="2854.0" y="567.3" width="4.0" height="152.7" fill="rgb(146,198,251)"/>
<rect x="2858.0" y="567.3" width="4.0" height="152.7" fill="rgb(195,223,252)"/>
<rect x="2862.0" y="583.6" width="4.0" height="136.4" fill="rgb(178,215,252)"/>
<rect x="2866.0" y="583.6" width="4.0" height="136.4" fill="rgb(146,198,251)"/>
<rect x="2870.0" y="583.6" width="4.0" height="136.4" fill="rgb(146,198,251)"/>
<rect x="2874.0" y="583.6" width="4.0" height="136.4" fill="rgb(227,240,254)"/>
<rect x="2878.0" y="550.2" width="4.0" height="169.8" fill="rgb(146,198,251)"/>
<rect x="2882.0" y="550.2" width="4.0" height="169.8" fill="rgb(146,198,251)"/>
<rect x="2886.0" y="550.2" width="4.0" height="169.8" fill="rgb(182,217,252)"/>
<rect x="2890.0" y="567.8" width="4.0" height="152.2" fill="rgb(190,221,252)"/>
<rect x="2894.0" y="567.8" width="4.0" height="152.2" fill="rgb(146,198,251)"/>
<rect x="2898.0" y="567.8" width="4.0" height="152.2" fill="rgb(146,198,251)"/>
<rect x="2902.0" y="567.8" width="4.0" height="152.2" fill="rgb(227,240,254)"/>
<rect x="2906.0" y="555.8" width="4.0" height="164.2" fill="rgb(146,198,251)"/>
<rect x="2910.0" y="555.8" width="4.0" height="164.2" fill="rgb(146,198,251)"/>
<rect x="2914.0" y="555.8" width="4.0" height="164.2" fill="rgb(170,211,251)"/>
<rect x="2918.0" y="589.4" width="4.0" height="130.6" fill="rgb(202,227,253)"/>
<rect x="2922.0" y="589.4" width="4.0" height="130.6" fill="rgb(146,198,251)"/>
<rect x="2926.0" y="589.4" width="4.0" height="130.6" fill="rgb(146,198,251)"/>
<rect x="2930.0" y="589.4" width="4.0" height="130.6" fill="rgb(219,236,253)"/>
<rect x="2934.0" y="581.4" width="4.0" height="138.6" fill="rgb(154,202,251)"/>
<rect x="2938.0" y="581.4" width="4.0" height="138.6" fill="rgb(146,198,251)"/>
<rect x="2942.0" y="581.4" width="4.0" height="138.6" fill="rgb(158,204,251)"/>
<rect x="2946.0" y="576.3" width="4.0" height="143.7" fill="rgb(214,234,253)"/>
<rect x="2950.0" y="576.3" width="4.0" height="143.7" fill="rgb(146,198,251)"/>
<rect x="2954.0" y="576.3" width="4.0" height="143.7" fill="rgb(146,198,251)"/>
<rect x="2958.0" y="576.3" width="4.0" height="143.7" fill="rgb(207,230,253)"/>
<rect x="2962.0" y="537.4" width="4.0" height="182.6" fill="rgb(166,208,251)"/>
<rect x="2966.0" y="537.4" width="4.0" height="182.6" fill="rgb(146,198,251)"/>
<rect x="2970.0" y="537.4" width="4.0" height="182.6" fill="rgb(146,198,251)"/>
<rect x="2974.0" y="539.1" width="4.0" height="180.9" fill="rgb(227,240,253)"/>
<rect x="2978.0" y="539.1" width="4.0" height="180.9" fill="rgb(146,198,251)"/>
<rect x="2982.0" y="539.1" width="4.0" height="180.9" fill="rgb(146,198,251)"/>
<rect x="2986.0" y="539.1" width="4.0" height="180.9" fill="rgb(195,223,252)"/>
<rect x="2990.0" y="541.1" width="4.0" height="178.9" fill="rgb(178,215,252)"/>
<rect x="2994.0" y="541.1" width="4.0" height="178.9" fill="rgb(146,198,251)"/>
<rect x="2998.0" y="541.1" width="4.0" height="178.9" fill="rgb(146,198,251)"/>
<rect x="3002.0" y="541.1" width="4.0" height="178.9" fill="rgb(227,240,254)"/>
<rect x="3006.0" y="544.5" width="4.0" height="175.5" fill="rgb(146,198,251)"/>
<rect x="3010.0" y="544.5" width="4.0" height="175.5" fill="rgb(146,198,251)"/>
<rect x="3014.0" y="544.5" width="4.0" height="175.5" fill="rgb(182,217,252)"/>
<rect x="3018.0" y="447.0" width="4.0" height="273.0" fill="rgb(190,221,252)"/>
<rect x="3022.0" y="447.0" width="4.0" height="273.0" fill="rgb(146,198,251)"/>
<rect x="3026.0" y="447.0" width="4.0" height="273.0" fill="rgb(146,198,251)"/>
<rect x="3030.0" y="447.0" width="4.0" height="273.0" fill="rgb(227,240,254)"/>
<rect x="3034.0" y="600.8" width="4.0" height="119.2" fill="rgb(146,198,251)"/>
<rect x="3038.0" y="600.8" width="4.0" height="119.2" fill="rgb(146,198,251)"/>
<rect x="3042.0" y="600.8" width="4.0" height="119.2" fill="rgb(170,211,251)"/>
<rect x="3046.0" y="543.4" width="4.0" height="176.6" fill="rgb(202,227,253)"/>
<rect x="3050.0" y="543.4" width="4.0" height="176.6" fill="rgb(146,198,251)"/>
<rect x="3054.0" y="543.4" width="4.0" height="176.6" fill="rgb(146,198,251)"/>
<rect x="3058.0" y="543.4" width="4.0" height="176.6" fill="rgb(219,236,253)"/>
<rect x="3062.0" y="552.2" width="4.0" height="167.8" fill="rgb(154,202,251)"/>
<rect x="3066.0" y="552.2" width="4.0" height="167.8" fill="rgb(146,198,251)"/>
<rect x="3070.0" y="552.2" width="4.0" height="167.8" fill="rgb(158,204,251)"/>
<rect x="3074.0" y="336.0" width="4.0" height="384.0" fill="rgb(214,234,253)"/>
<rect x="3078.0" y="336.0" width="4.0" height="384.0" fill="rgb(146,198,251)"/>
<rect x="3082.0" y="336.0" width="4.0" height="384.0" fill="rgb(146,198,251)"/>
<rect x="3086.0" y="336.0" width="4.0" height="384.0" fill="rgb(207,230,253)"/>
<rect x="3090.0" y="564.4" width="4.0" height="155.6" fill="rgb(166,208,251)"/>
<rect x="3094.0" y="564.4" width="4.0" height="155.6" fill="rgb(146,198,251)"/>
<rect x="3098.0" y="564.4" width="4.0" height="155.6" fill="rgb(146,198,251)"/>
<rect x="3102.0" y="491.7" width="4.0" height="228.3" fill="rgb(227,240,253)"/>
<rect x="3106.0" y="491.7" width="4.0" height="228.3" fill="rgb(146,198,251)"/>
<rect x="3110.0" y="491.7" width="4.0" height="228.3" fill="rgb(146,198,251)"/>
<rect x="3114.0" y="491.7" width="4.0" height="228.3" fill="rgb(195,223,252)"/>
<rect x="3118.0" y="452.0" width="4.0" height="268.0" fill="rgb(178,215,252)"/>
<rect x="3122.0" y="452.0" width="4.0" height="268.0" fill="rgb(146,198,251)"/>
<rect x="3126.0" y="452.0" width="3.8" height="268.0" fill="rgb(146,198,251)"/>
</g>
<rect x="1818.4" y="208.3" width="1311.4" height="3" fill="#8090b0" fill-opacity="0.06"/>
<rect x="1818.4" y="336.1" width="1311.4" height="3" fill="#8090b0" fill-opacity="0.06"/>
<rect x="1818.4" y="463.9" width="1311.4" height="3" fill="#8090b0" fill-opacity="0.06"/>
<rect x="1818.4" y="591.7" width="1311.4" height="3" fill="#8090b0" fill-opacity="0.06"/>
<polygon points="2485,600 2498,600 2495.6,631.8 2487.8,631.8" fill="#00fdff"/>
<clipPath id="cc"><rect x="1800" y="300" width="1400" height="201"/></clipPath>
<polyline clip-path="url(#cc)" points="1820.6,543.9 1821.7,502.3 1826.1,502.3 1831.0,532.8 1838.3,529.5 1848.4,537.3 1858.4,576.2 1866.1,542.8 1873.9,585.1 1881.7,532.8 1890.6,528.4 1896.2,530.6 1902.8,549.5 1908.4,520.6 1916.8,515.0 1924.0,530.6 1930.6,535.0 1937.3,546.2 1948.4,525.0 1957.3,528.4 1966.2,535.0 1974.0,523.9 1977.3,578.4 1987.3,587.3 1994.0,528.4 2000.7,587.3 2010.7,587.3 2017.4,586.2 2022.9,538.4 2030.7,528.4 2037.4,584.0 2044.0,536.1 2051.8,522.8 2056.5,437.0 2060.5,437.0 2072.9,582.8 2079.6,525.0 2087.4,535.0 2093.0,530.6 2100.7,536.1 2108.5,533.9 2116.3,537.3 2123.0,523.9 2129.0,474.0 2131.5,474.0 2144.1,532.8 2150.8,530.6 2158.6,537.3 2165.2,535.0 2173.0,542.8 2181.9,540.6 2193.0,527.3 2198.6,535.0 2207.5,512.8 2215.3,535.0 2221.9,578.4 2230.8,584.0 2242.0,582.8 2250.8,556.2 2257.5,585.1 2262.8,529.5 2272.8,537.3 2283.9,521.7 2295.0,511.7 2300.6,573.9 2307.0,454.0 2309.0,454.0 2319.5,540.6 2328.4,582.8 2333.3,501.7 2339.5,502.8 2343.9,545.0 2355.1,538.4 2364.0,579.5 2370.6,536.1 2380.6,535.0 2386.2,586.2 2397.3,525.0 2408.4,529.5 2414.0,549.5 2420.7,491.7 2429.6,513.9 2435.1,571.7 2441.8,535.0 2449.6,588.4 2464.0,516.1 2475.1,540.6 2491.8,602.9 2499.6,547.3 2506.3,562.8 2512.9,540.6 2521.8,580.6 2536.3,530.6 2543.0,580.6 2553.0,547.3 2564.1,553.9 2571.9,532.8 2578.5,580.6 2588.6,549.5 2598.6,556.2 2606.3,609.5 2612.0,452.0 2615.5,452.0 2619.7,507.2 2628.6,492.8 2635.3,547.3 2641.9,531.7 2649.7,551.7 2657.5,532.8 2664.2,589.5 2677.5,531.7 2687.5,525.0 2692.0,596.2 2695.0,582.8 2706.1,587.3 2711.7,549.5 2719.5,539.5 2728.4,555.0 2733.9,528.4 2742.8,530.6 2748.4,591.7 2755.0,585.1 2763.9,591.7 2769.5,567.3 2777.3,571.7 2783.9,511.7 2791.0,472.5 2793.0,472.5 2806.2,507.2 2812.9,538.4 2826.2,537.3 2839.5,540.6 2848.4,572.8 2859.6,547.3 2869.6,594.0 2875.6,530.6 2886.2,549.5 2898.5,570.6 2910.7,549.5 2919.6,550.6 2926.3,596.2 2940.7,572.8 2948.5,585.1 2961.8,526.1 2973.0,539.5 2988.5,538.4 2997.4,537.3 3006.3,546.2 3013.0,549.5 3015.8,505.0 3018.5,451.0 3026.5,444.0 3028.9,505.0 3034.1,622.9 3045.2,516.1 3053.0,527.3 3061.9,558.4 3073.0,529.5 3076.5,512.0 3081.3,340.0 3083.3,340.0 3089.8,512.0 3096.4,573.9 3104.2,516.1 3110.8,549.5 3121.5,456.0 3130.0,456.0" fill="none" stroke="#00fdff" stroke-width="8.4" stroke-linejoin="round"/>
<clipPath id="pc">
<rect x="1808.4" y="0" width="235.5999999999999" height="900"/>
<rect x="2044" y="496" width="29" height="404"/>
<rect x="2073" y="0" width="43" height="900"/>
<rect x="2116" y="496" width="29" height="404"/>
<rect x="2145" y="0" width="149" height="900"/>
<rect x="2294" y="496" width="28" height="404"/>
<rect x="2322" y="0" width="278" height="900"/>
<rect x="2600" y="496" width="22" height="404"/>
<rect x="2622" y="0" width="156" height="900"/>
<rect x="2778" y="489" width="28" height="411"/>
<rect x="2806" y="0" width="202" height="900"/>
<rect x="3008" y="496" width="28" height="404"/>
<rect x="3036" y="0" width="32" height="900"/>
<rect x="3068" y="496" width="28" height="404"/>
<rect x="3096" y="0" width="16" height="900"/>
<rect x="3112" y="496" width="28" height="404"/>
<rect x="3140" y="0" width="-0.1999999999998181" height="900"/>
</clipPath>
<polyline clip-path="url(#pc)" points="1820.6,543.9 1821.7,502.3 1826.1,502.3 1831.0,532.8 1838.3,529.5 1848.4,537.3 1858.4,576.2 1866.1,542.8 1873.9,585.1 1881.7,532.8 1890.6,528.4 1896.2,530.6 1902.8,549.5 1908.4,520.6 1916.8,515.0 1924.0,530.6 1930.6,535.0 1937.3,546.2 1948.4,525.0 1957.3,528.4 1966.2,535.0 1974.0,523.9 1977.3,578.4 1987.3,587.3 1994.0,528.4 2000.7,587.3 2010.7,587.3 2017.4,586.2 2022.9,538.4 2030.7,528.4 2037.4,584.0 2044.0,536.1 2051.8,522.8 2056.5,437.0 2060.5,437.0 2072.9,582.8 2079.6,525.0 2087.4,535.0 2093.0,530.6 2100.7,536.1 2108.5,533.9 2116.3,537.3 2123.0,523.9 2129.0,474.0 2131.5,474.0 2144.1,532.8 2150.8,530.6 2158.6,537.3 2165.2,535.0 2173.0,542.8 2181.9,540.6 2193.0,527.3 2198.6,535.0 2207.5,512.8 2215.3,535.0 2221.9,578.4 2230.8,584.0 2242.0,582.8 2250.8,556.2 2257.5,585.1 2262.8,529.5 2272.8,537.3 2283.9,521.7 2295.0,511.7 2300.6,573.9 2307.0,454.0 2309.0,454.0 2319.5,540.6 2328.4,582.8 2333.3,501.7 2339.5,502.8 2343.9,545.0 2355.1,538.4 2364.0,579.5 2370.6,536.1 2380.6,535.0 2386.2,586.2 2397.3,525.0 2408.4,529.5 2414.0,549.5 2420.7,491.7 2429.6,513.9 2435.1,571.7 2441.8,535.0 2449.6,588.4 2464.0,516.1 2475.1,540.6 2491.8,602.9 2499.6,547.3 2506.3,562.8 2512.9,540.6 2521.8,580.6 2536.3,530.6 2543.0,580.6 2553.0,547.3 2564.1,553.9 2571.9,532.8 2578.5,580.6 2588.6,549.5 2598.6,556.2 2606.3,609.5 2612.0,452.0 2615.5,452.0 2619.7,507.2 2628.6,492.8 2635.3,547.3 2641.9,531.7 2649.7,551.7 2657.5,532.8 2664.2,589.5 2677.5,531.7 2687.5,525.0 2692.0,596.2 2695.0,582.8 2706.1,587.3 2711.7,549.5 2719.5,539.5 2728.4,555.0 2733.9,528.4 2742.8,530.6 2748.4,591.7 2755.0,585.1 2763.9,591.7 2769.5,567.3 2777.3,571.7 2783.9,511.7 2791.0,472.5 2793.0,472.5 2806.2,507.2 2812.9,538.4 2826.2,537.3 2839.5,540.6 2848.4,572.8 2859.6,547.3 2869.6,594.0 2875.6,530.6 2886.2,549.5 2898.5,570.6 2910.7,549.5 2919.6,550.6 2926.3,596.2 2940.7,572.8 2948.5,585.1 2961.8,526.1 2973.0,539.5 2988.5,538.4 2997.4,537.3 3006.3,546.2 3013.0,549.5 3015.8,505.0 3018.5,451.0 3026.5,444.0 3028.9,505.0 3034.1,622.9 3045.2,516.1 3053.0,527.3 3061.9,558.4 3073.0,529.5 3076.5,512.0 3081.3,340.0 3083.3,340.0 3089.8,512.0 3096.4,573.9 3104.2,516.1 3110.8,549.5 3121.5,456.0 3130.0,456.0" fill="none" stroke="#ed768d" stroke-width="7.3" stroke-linejoin="round"/>
<rect x="1818.4" y="539.5" width="1311.4" height="8" fill="#fcc419"/>
<rect x="1821.4" y="721.5" width="1308.4" height="2.2" fill="#dcdcdc"/>
<rect x="1818.4" y="718" width="1311.4" height="4" fill="#6c6f85"/>
<rect x="1995.0" y="722" width="4" height="17.5" fill="#7b7e93"/>
<rect x="2507.2" y="722" width="4" height="17.5" fill="#7b7e93"/>
<rect x="3019.0" y="722" width="4" height="17.5" fill="#7b7e93"/>
</svg></body></html>
